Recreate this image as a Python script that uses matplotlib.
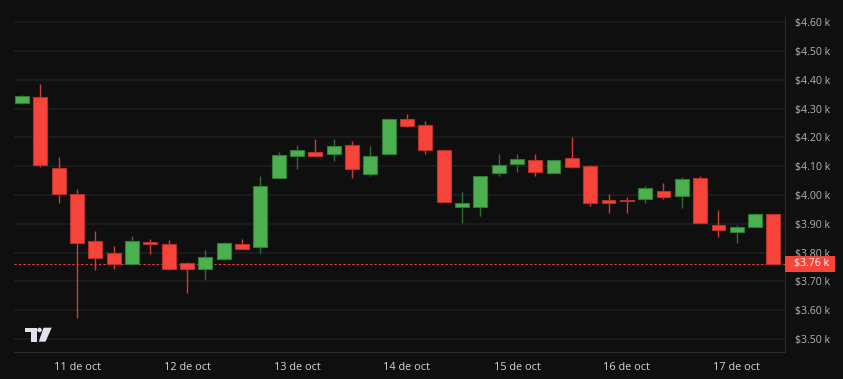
import matplotlib.pyplot as plt
import matplotlib.transforms as mtransforms
from matplotlib.patches import Polygon, Circle, Rectangle

# 4h candles, 10 oct 12:00 -> 17 oct 08:00
opens = [4318, 4340, 4094, 4003, 3841, 3799, 3759, 3836, 3830, 3764, 3742, 3777,
         3830, 3820, 4060, 4135, 4149, 4142, 4175, 4073, 4141, 4265, 4243, 4156,
         3957, 3957, 4075, 4107, 4122, 4077, 4128, 4101, 3983, 3983, 3985, 4014,
         3997, 4060, 3895, 3870, 3888, 3933]
closes = [4344, 4104, 4005, 3832, 3782, 3761, 3841, 3830, 3742, 3744, 3785, 3832,
          3814, 4031, 4138, 4155, 4137, 4171, 4091, 4134, 4265, 4241, 4156, 3976,
          3971, 4066, 4104, 4125, 4079, 4122, 4097, 3973, 3973, 3980, 4023, 3994,
          4056, 3904, 3878, 3889, 3933, 3761]
highs = [4347, 4385, 4131, 4020, 3875, 3823, 3858, 3847, 3844, 3766, 3808, 3838,
         3847, 4066, 4150, 4174, 4194, 4194, 4186, 4169, 4267, 4281, 4256, 4156,
         4010, 4066, 4142, 4142, 4142, 4122, 4201, 4104, 4003, 3992, 4031, 4042,
         4063, 4066, 3948, 3895, 3939, 3933]
lows = [4316, 4098, 3973, 3572, 3740, 3743, 3757, 3796, 3740, 3661, 3705, 3775,
        3813, 3798, 4060, 4091, 4131, 4119, 4060, 4067, 4140, 4237, 4141, 3976,
        3902, 3926, 4066, 4081, 4066, 4075, 4094, 3962, 3939, 3939, 3973, 3987,
        3954, 3904, 3855, 3832, 3888, 3761]

day_pos = [3, 9, 15, 21, 27, 33, 39]
day_labels = ["11 de oct", "12 de oct", "13 de oct", "14 de oct",
              "15 de oct", "16 de oct", "17 de oct"]
price_ticks = [3500, 3600, 3700, 3800, 3900, 4000, 4100, 4200, 4300, 4400, 4500, 4600]

BG = "#0f0f0f"
GREEN = "#4caf50"
RED = "#f7443a"

W, H = 843, 379
fig = plt.figure(figsize=(W / 100, H / 100), dpi=100, facecolor=BG)
ax = fig.add_axes([14 / W, 27 / H, 771 / W, 352 / H], facecolor=BG)

x = list(range(len(opens)))
up = [c >= o for o, c in zip(opens, closes)]
body_col = [GREEN if u else RED for u in up]
edge_col = ["#2f7d33" if u else "#b8322b" for u in up]
wick_col = ["#2e6e31" if u else "#d43a31" for u in up]

ax.vlines(x, lows, highs, colors=wick_col, linewidth=1.0, zorder=2)
bottoms = [min(o, c) for o, c in zip(opens, closes)]
heights = [max(abs(c - o), 4) for o, c in zip(opens, closes)]
ax.bar(x, heights, bottom=bottoms, width=0.76, color=body_col,
       edgecolor=edge_col, linewidth=0.8, zorder=3)

# last price line + label
last = closes[-1]
ax.axhline(last, color=RED, linestyle=(0, (2, 2)), linewidth=0.8, zorder=1)
blend = mtransforms.blended_transform_factory(ax.transAxes, ax.transData)
ax.add_patch(Rectangle((1.0, last - 27), 50 / 771, 54, transform=blend,
                       fc=RED, ec="none", clip_on=False, zorder=5))
ax.text(1.0 + 9 / 771, last, f"${last/1000:.2f} k", transform=blend,
        va="center", ha="left", color="white", fontsize=7.6,
        family="Open Sans", clip_on=False, zorder=6)

ax.set_xlim(-0.44, 41.63)
ax.set_ylim(3455, 4677)
ax.set_yticks(price_ticks)
ax.set_yticklabels([f"${v/1000:.2f} k" for v in price_ticks])
ax.yaxis.tick_right()
ax.set_xticks(day_pos)
ax.set_xticklabels(day_labels)
ax.tick_params(axis="y", length=0, pad=7, labelcolor="#b2b2b2", labelsize=7.6)
ax.tick_params(axis="x", length=0, pad=7, labelcolor="#d1d4dc", labelsize=7.8)
for lab in ax.get_xticklabels() + ax.get_yticklabels():
    lab.set_family("Open Sans")
ax.grid(axis="y", color="#1e1e1e", linewidth=1.2)
ax.set_axisbelow(True)
for s in ["left", "top"]:
    ax.spines[s].set_visible(False)
for s in ["right", "bottom"]:
    ax.spines[s].set_color("#2a2a2a")
ax.spines["right"].set_bounds(3455, 4618)

# tradingview mark
lc = "#e0e3eb"
fig.patches.append(Polygon([(25, H - 327.7), (36.7, H - 327.7), (36.7, H - 341.7),
                            (30.7, H - 341.7), (30.7, H - 332.3), (25, H - 332.3)],
                           closed=True, transform=None, fc=lc, ec="none"))
fig.patches.append(Circle((39.5, H - 330), 2.3, transform=None, fc=lc, ec="none"))
fig.patches.append(Polygon([(43.5, H - 327.7), (51.7, H - 327.7), (45.5, H - 341.7),
                            (38.8, H - 341.7)], closed=True, transform=None, fc=lc, ec="none"))

fig.savefig("out.png", dpi=100, facecolor=BG)
